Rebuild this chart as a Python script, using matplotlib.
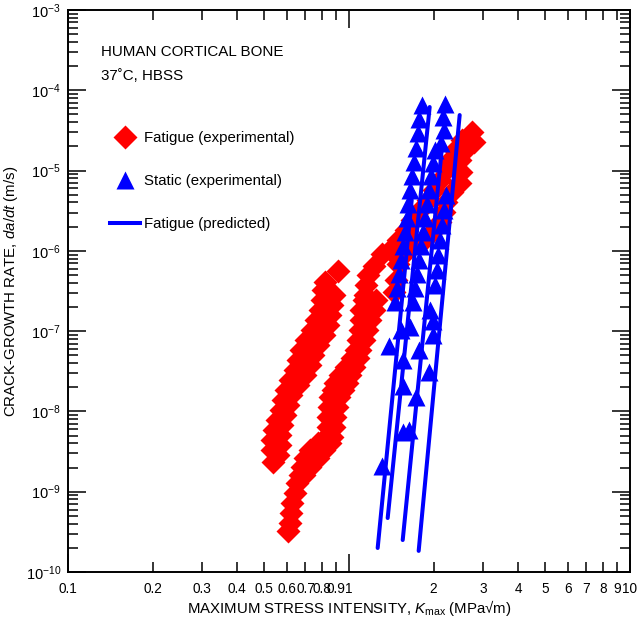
import matplotlib
matplotlib.use('Agg')
import matplotlib.pyplot as plt
from matplotlib.lines import Line2D

plt.rcParams['font.family'] = ['Liberation Sans', 'DejaVu Sans']
plt.rcParams['mathtext.fontset'] = 'custom'
plt.rcParams['mathtext.rm'] = 'Liberation Sans'
plt.rcParams['mathtext.it'] = 'Liberation Sans:italic'
plt.rcParams['font.size'] = 10

# fatigue (experimental), left band -- two edges of the scatter
fat1a_K = [0.535, 0.531, 0.531, 0.540, 0.553, 0.571, 0.581, 0.596, 0.615, 0.641,
           0.657, 0.673, 0.701, 0.736, 0.761, 0.786, 0.800, 0.806, 0.819]
fat1a_rate = [2.34e-9, 3.31e-9, 4.40e-9, 5.86e-9, 7.82e-9, 1.04e-8, 1.39e-8, 1.85e-8,
              2.46e-8, 3.28e-8, 4.37e-8, 5.82e-8, 7.74e-8, 1.03e-7, 1.37e-7, 1.83e-7,
              2.44e-7, 3.25e-7, 4.08e-7]
fat1b_K = [0.557, 0.567, 0.567, 0.576, 0.590, 0.605, 0.620, 0.657, 0.695, 0.725,
           0.743, 0.774, 0.813, 0.840, 0.854, 0.868, 0.882, 0.912]
fat1b_rate = [2.86e-9, 3.82e-9, 5.08e-9, 6.77e-9, 9.02e-9, 1.20e-8, 1.60e-8, 2.13e-8,
              2.84e-8, 3.78e-8, 5.04e-8, 6.71e-8, 8.93e-8, 1.19e-7, 1.58e-7, 2.11e-7,
              2.82e-7, 5.60e-7]

# fatigue (experimental), right band, lower part
fat2a_K = [0.605, 0.615, 0.620, 0.625, 0.641, 0.651, 0.668, 0.679, 0.695, 0.725,
           0.774, 0.826, 0.840, 0.840, 0.847, 0.854, 0.875, 0.889, 0.927, 0.973,
           1.022, 1.056, 1.074, 1.092, 1.100, 1.100, 1.128]
fat2a_rate = [3.24e-10, 4.08e-10, 5.43e-10, 7.23e-10, 9.63e-10, 1.28e-9, 1.61e-9, 2.03e-9,
              2.63e-9, 3.31e-9, 4.04e-9, 4.80e-9, 6.39e-9, 8.51e-9, 1.13e-8, 1.51e-8,
              1.85e-8, 2.26e-8, 2.84e-8, 3.57e-8, 4.62e-8, 5.82e-8, 7.74e-8, 1.03e-7,
              1.37e-7, 1.83e-7, 2.44e-7]
fat2b_K = [0.690, 0.725, 0.774, 0.813, 0.854, 0.868, 0.882, 0.889, 0.904, 0.919,
           0.950, 0.981, 1.006, 1.039, 1.074, 1.092, 1.128, 1.156, 1.185, 1.224, 1.245]
fat2b_rate = [1.61e-9, 2.03e-9, 2.63e-9, 3.31e-9, 4.04e-9, 4.80e-9, 6.39e-9, 8.51e-9,
              1.13e-8, 1.51e-8, 1.85e-8, 2.26e-8, 2.84e-8, 3.57e-8, 4.62e-8, 5.82e-8,
              7.74e-8, 1.03e-7, 1.37e-7, 1.83e-7, 2.44e-7]

# fatigue (experimental), right band, upper part
fat3a_K = [2.734, 2.779, 2.58, 2.477, 2.497, 2.477, 2.320, 2.209, 2.173, 2.102,
           1.970, 1.844, 1.699, 1.565, 1.490, 1.466, 1.442]
fat3a_rate = [3.01e-5, 2.26e-5, 1.80e-5, 1.35e-5, 9.57e-6, 6.98e-6, 5.39e-6, 4.06e-6,
              3.04e-6, 2.29e-6, 1.71e-6, 1.36e-6, 1.22e-6, 9.12e-7, 6.85e-7, 4.33e-7,
              3.07e-7]
fat3b_K = [2.518, 2.38, 2.283, 2.209, 2.102, 2.002, 1.906, 1.785, 1.672, 1.591,
           1.490, 1.396, 1.307, 1.224, 1.166, 1.147, 1.137]
fat3b_rate = [2.40e-5, 1.80e-5, 1.35e-5, 1.01e-5, 7.62e-6, 5.71e-6, 4.29e-6, 3.22e-6,
              2.42e-6, 1.82e-6, 1.36e-6, 1.02e-6, 9.12e-7, 6.47e-7, 5.00e-7, 3.75e-7,
              2.82e-7]

# static (experimental)
sta1_K = [1.814, 1.770, 1.756, 1.727, 1.699, 1.672, 1.644, 1.618, 1.604, 1.578,
          1.553, 1.528, 1.503, 1.478, 1.454, 1.384, 1.307]
sta1_rate = [6.55e-5, 4.38e-5, 2.93e-5, 1.91e-5, 1.28e-5, 8.55e-6, 5.71e-6, 3.83e-6,
             2.56e-6, 1.71e-6, 1.15e-6, 7.67e-7, 5.14e-7, 3.44e-7, 2.30e-7, 6.52e-8,
             2.09e-9]
sta2_K = [2.19, 2.156, 2.173, 2.120, 2.018, 1.986, 1.953, 1.921, 1.890, 1.859,
          1.829, 1.800, 1.770, 1.741, 1.713, 1.686]
sta2_rate = [6.73e-5, 4.63e-5, 3.19e-5, 2.20e-5, 1.80e-5, 1.24e-5, 8.55e-6, 5.71e-6,
             3.83e-6, 2.56e-6, 1.71e-6, 1.15e-6, 7.67e-7, 5.14e-7, 3.44e-7, 2.30e-7]
sta3_K = [2.209, 2.173, 2.138, 2.102, 2.069, 2.052, 2.018]
sta3_rate = [4.95e-6, 3.22e-6, 2.10e-6, 1.36e-6, 8.87e-7, 5.77e-7, 3.75e-7]
sta4_K = [1.553, 1.631, 1.553, 1.727, 1.921, 1.986, 1.528, 1.644, 1.770, 1.986,
          1.553, 1.937]
sta4_rate = [5.53e-9, 5.86e-9, 2.07e-8, 1.51e-8, 3.10e-8, 1.34e-7, 1.03e-7, 1.12e-7,
             5.82e-8, 8.93e-8, 4.37e-8, 1.83e-7]

# fatigue (predicted): end points of each power-law line
pred_K = [(1.265, 1.672), (1.373, 1.937), (1.553, 2.138), (1.770, 2.477)]
pred_rate = [(1.99e-10, 4.29e-6), (4.70e-10, 6.18e-5), (2.50e-10, 1.80e-5), (1.83e-10, 4.91e-5)]

x_major = [0.1, 1, 10]
x_major_labels = ['0.1', '1', '10']
x_minor = [0.2, 0.3, 0.4, 0.5, 0.6, 0.7, 0.8, 0.9, 2, 3, 4, 5, 6, 7, 8, 9]
x_minor_labels = ['0.2', '0.3', '0.4', '0.5', '0.6', '0.7', '0.8', '0.9',
                  '2', '3', '4', '5', '6', '7', '8', '9']
y_exponents = [-10, -9, -8, -7, -6, -5, -4, -3]

fig = plt.figure(figsize=(6.39, 6.23), dpi=100)
ax = fig.add_axes([0.1064, 0.0819, 0.8795, 0.9021])
ax.set_xscale('log')
ax.set_yscale('log')

red = '#ff0000'
blue = '#0000ff'
diamond_ms = 12.5
triangle_ms = 13
for K, r in [(fat1a_K, fat1a_rate), (fat1b_K, fat1b_rate), (fat2a_K, fat2a_rate),
             (fat2b_K, fat2b_rate), (fat3a_K, fat3a_rate), (fat3b_K, fat3b_rate)]:
    ax.plot(K, r, ls='none', marker='D', ms=diamond_ms, mec='none', mfc=red, zorder=2)

for K, r in zip(pred_K, pred_rate):
    ax.plot(K, r, color=blue, lw=2.9, solid_capstyle='round', zorder=3)

for K, r in [(sta1_K, sta1_rate), (sta2_K, sta2_rate), (sta3_K, sta3_rate), (sta4_K, sta4_rate)]:
    ax.plot(K, r, ls='none', marker='^', ms=triangle_ms, mec='none', mfc=blue, zorder=4)

ax.set_xlim(0.1, 10)
ax.set_ylim(1e-10, 1e-3)

ax.set_xticks(x_major, x_major_labels)
ax.set_xticks(x_minor, x_minor_labels, minor=True)
ax.set_yticks([10.0 ** e for e in y_exponents], [r'$10^{%d}$' % e for e in y_exponents])
ax.set_yticks([m * 10.0 ** e for e in y_exponents[:-1] for m in range(2, 10)], minor=True)
ax.tick_params(which='both', direction='in', top=True, right=True, width=1.1,
               colors='black')
ax.tick_params(axis='x', which='both', pad=7, labelsize=9.8)
ax.tick_params(axis='y', which='both', pad=5, labelsize=10.5)
ax.tick_params(which='major', length=13)
ax.tick_params(which='minor', length=7)
for s in ax.spines.values():
    s.set_linewidth(1.4)

ax.set_xlabel(r'MAXIMUM STRESS INTENSITY, $\mathit{K}_{\mathrm{max}}$ (MPa√m)', fontsize=10.8, labelpad=2)
ax.set_ylabel(r'CRACK-GROWTH RATE, $\mathit{da/dt}$ (m/s)', fontsize=10.8, labelpad=4)

ax.text(0.0587, 0.925, 'HUMAN CORTICAL BONE', transform=ax.transAxes, va='center', fontsize=10.9)
ax.text(0.0587, 0.8826, '37˚C, HBSS', transform=ax.transAxes, va='center', fontsize=10.9,
        family=['Liberation Sans', 'DejaVu Sans'])

handles = [Line2D([], [], ls='none', marker='D', ms=diamond_ms, mec='none', mfc=red),
           Line2D([], [], ls='none', marker='^', ms=triangle_ms, mec='none', mfc=blue),
           Line2D([], [], color=blue, lw=2.9)]
labels = ['Fatigue (experimental)', 'Static (experimental)', 'Fatigue (predicted)']
ax.legend(handles, labels, loc='upper left', bbox_to_anchor=(0.0747, 0.785), frameon=False,
          borderpad=0, borderaxespad=0, handlelength=2.0, handletextpad=0.3,
          labelspacing=1.95, fontsize=10.8, numpoints=1)

fig.savefig('out.png', dpi=100)
